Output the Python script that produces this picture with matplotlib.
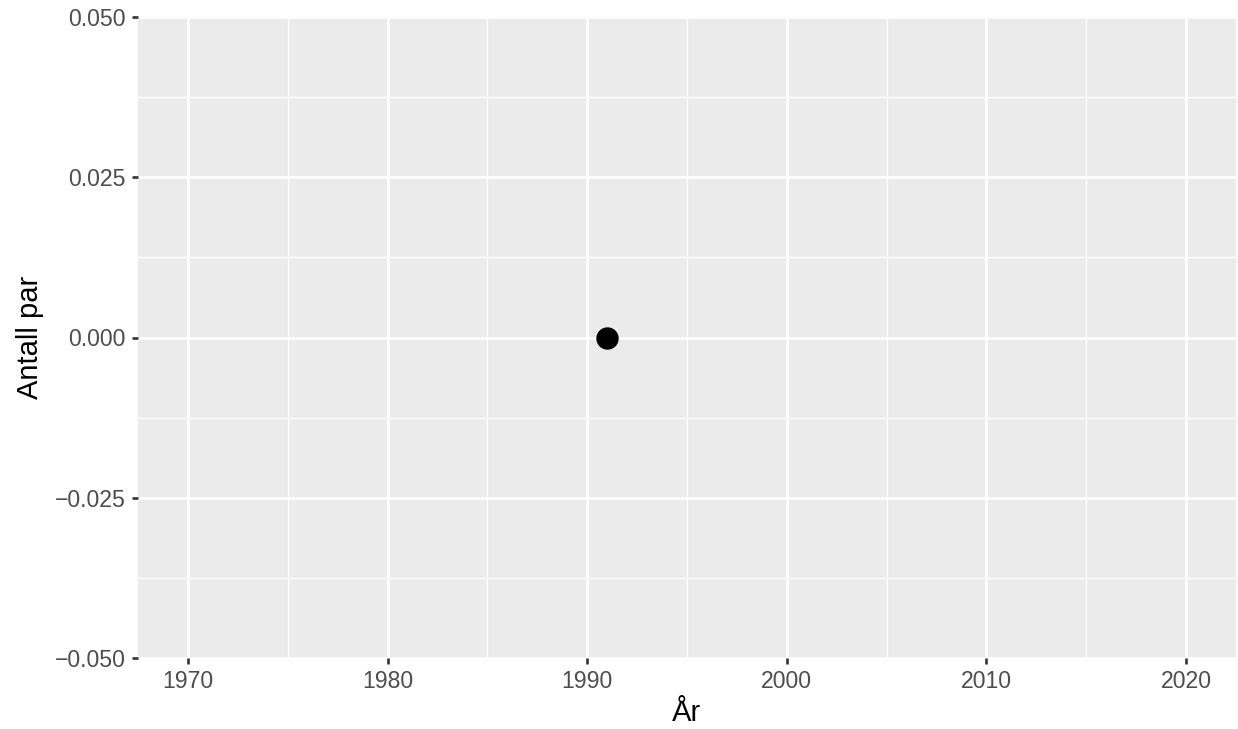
import matplotlib
matplotlib.use("Agg")
import matplotlib.pyplot as plt
from matplotlib.ticker import MultipleLocator, FixedLocator

# Data
years = [1991]
pairs = [0.0]

x_ticks = [1970, 1980, 1990, 2000, 2010, 2020]
y_ticks = [-0.050, -0.025, 0.000, 0.025, 0.050]
y_tick_labels = ["\u22120.050", "\u22120.025", "0.000", "0.025", "0.050"]

x_label = "År"
y_label = "Antall par"

plt.rcParams['font.family'] = ['Liberation Sans', 'DejaVu Sans']

W, H = 1238, 729
fig = plt.figure(figsize=(W / 100, H / 100), dpi=100)
ax = fig.add_axes([138 / W, (H - 658) / H, (1236 - 138) / W, (658 - 17) / H])

ax.set_facecolor('#EBEBEB')
for s in ax.spines.values():
    s.set_visible(False)

ax.set_xlim(1967.5, 2022.5)
ax.set_ylim(-0.05, 0.05)

ax.xaxis.set_major_locator(FixedLocator(x_ticks))
ax.xaxis.set_minor_locator(FixedLocator([1975, 1985, 1995, 2005, 2015]))
ax.yaxis.set_major_locator(FixedLocator(y_ticks))
ax.yaxis.set_minor_locator(FixedLocator([-0.0375, -0.0125, 0.0125, 0.0375]))
ax.set_xticklabels([str(v) for v in x_ticks])
ax.set_yticklabels(y_tick_labels)

ax.grid(which='major', color='white', linewidth=1.9)
ax.grid(which='minor', color='white', linewidth=0.95)
ax.set_axisbelow(True)

ax.tick_params(which='major', length=4.5, width=1.9, color='#333333',
               labelcolor='#4D4D4D', labelsize=16.6, pad=4.5)
ax.tick_params(which='minor', length=0, width=0)

ax.plot(years, pairs, linestyle='none', marker='o', markersize=15.1,
        color='black', clip_on=False, zorder=3)

ax.set_xlabel(x_label, fontsize=21, color='black', labelpad=4)
ax.set_ylabel(y_label, fontsize=21, color='black', labelpad=8)

fig.savefig('out.png', dpi=100, facecolor='white')
